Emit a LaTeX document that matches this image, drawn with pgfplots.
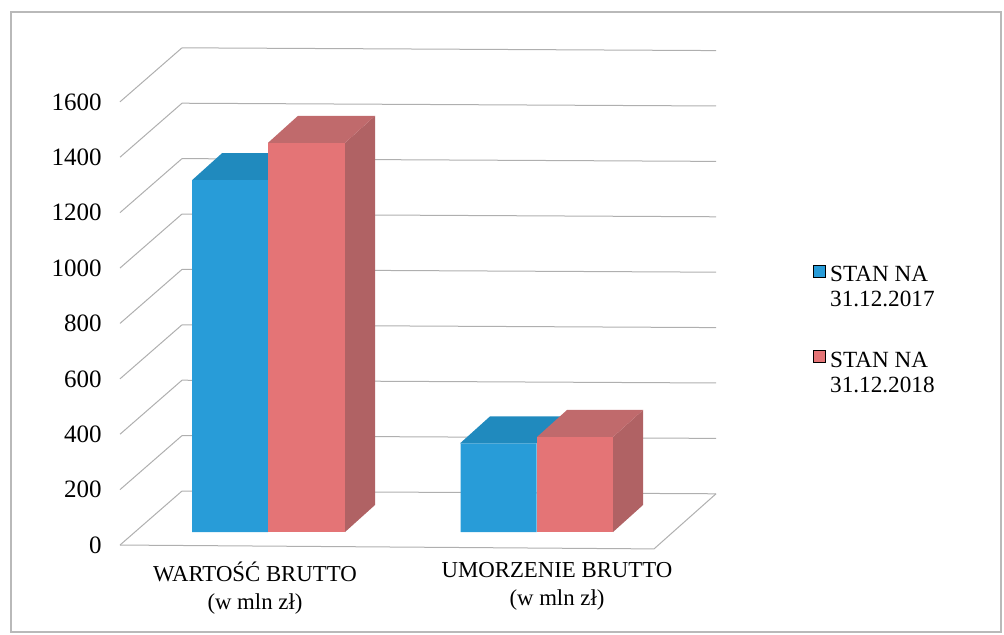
\documentclass[border=0pt]{standalone}
\usepackage{fontspec}
\setmainfont{Liberation Serif}
\usepackage{pgfplots}
\pgfplotsset{compat=1.18}
\definecolor{bfront}{RGB}{40,156,216}
\definecolor{btop}{RGB}{32,138,190}
\definecolor{rfront}{RGB}{228,116,118}
\definecolor{rtop}{RGB}{192,106,108}
\definecolor{rside}{RGB}{176,98,100}
\definecolor{gridc}{RGB}{175,175,175}
% values (mln zl)
\def\bA{1270}\def\rA{1405}\def\bB{320}\def\rB{343}
\pgfmathsetmacro{\bAt}{\bA+97.5}
\pgfmathsetmacro{\rAt}{\rA+97.5}
\pgfmathsetmacro{\bBt}{\bB+97.5}
\pgfmathsetmacro{\rBt}{\rB+97.5}
\begin{document}
\begin{tikzpicture}
\begin{axis}[
  scale only axis, width=502pt, height=317pt,
  xmin=0, xmax=1004, ymin=-368.2, ymax=1920.6,
  axis line style={draw=none}, major tick length=0pt,
  clip=false,
  ytick={-47,153,353,553,753,953,1153,1353,1553},
  yticklabels={0,200,400,600,800,1000,1200,1400,1600},
  yticklabel style={font=\fontsize{12.5}{14}\selectfont, anchor=east, inner sep=0pt, xshift=51pt},
  xtick={255,557},
  xticklabels={{WARTOŚĆ BRUTTO\\(w mln zł)},{UMORZENIE BRUTTO\\(w mln zł)}},
  xticklabel style={font=\fontsize{11.4}{14}\selectfont, align=center, anchor=north, inner sep=0pt, yshift=36pt},
  legend style={at={(axis cs:813,975)}, anchor=north west, draw=none, fill=none, inner sep=0pt,
    font=\fontsize{11.6}{12.5}\selectfont, row sep=17pt, cells={anchor=west, align=left}},
  legend image code/.code={\fill[#1] (0pt,5.25pt) rectangle (6pt,11.25pt);},
]
% frame
\draw[gray!55, line width=0.6pt] (axis cs:11,-361) rectangle (axis cs:1001,1877);
% back wall gridlines
\addplot[gridc, line width=0.5pt, forget plot] coordinates {(182,148) (716,138)};
\addplot[gridc, line width=0.5pt, forget plot] coordinates {(182,348) (716,338)};
\addplot[gridc, line width=0.5pt, forget plot] coordinates {(182,548) (716,538)};
\addplot[gridc, line width=0.5pt, forget plot] coordinates {(182,748) (716,738)};
\addplot[gridc, line width=0.5pt, forget plot] coordinates {(182,948) (716,938)};
\addplot[gridc, line width=0.5pt, forget plot] coordinates {(182,1148) (716,1138)};
\addplot[gridc, line width=0.5pt, forget plot] coordinates {(182,1348) (716,1338)};
\addplot[gridc, line width=0.5pt, forget plot] coordinates {(182,1548) (716,1538)};
\addplot[gridc, line width=0.5pt, forget plot] coordinates {(182,1748) (716,1738)};
% side wall gridlines
\addplot[gridc, line width=0.5pt, forget plot] coordinates {(120,-47) (182,148)};
\addplot[gridc, line width=0.5pt, forget plot] coordinates {(120,153) (182,348)};
\addplot[gridc, line width=0.5pt, forget plot] coordinates {(120,353) (182,548)};
\addplot[gridc, line width=0.5pt, forget plot] coordinates {(120,553) (182,748)};
\addplot[gridc, line width=0.5pt, forget plot] coordinates {(120,753) (182,948)};
\addplot[gridc, line width=0.5pt, forget plot] coordinates {(120,953) (182,1148)};
\addplot[gridc, line width=0.5pt, forget plot] coordinates {(120,1153) (182,1348)};
\addplot[gridc, line width=0.5pt, forget plot] coordinates {(120,1353) (182,1548)};
\addplot[gridc, line width=0.5pt, forget plot] coordinates {(120,1553) (182,1748)};
% floor
\addplot[gridc, line width=0.5pt, forget plot] coordinates {(120,-47) (654,-61) (716,138)};
% group 1
\addplot[fill=btop, draw=none, forget plot] coordinates {(192,\bA) (268,\bA) (298,\bAt) (222,\bAt)};
\addplot[ybar, bar width=76, bar shift=0pt, fill=bfront, draw=none, forget plot] coordinates {(230,\bA) (498.5,\bB)};
\addplot[fill=rside, draw=none, forget plot] coordinates {(345,0) (375,97.5) (375,\rAt) (345,\rA)};
\addplot[fill=rtop, draw=none, forget plot] coordinates {(268,\rA) (345,\rA) (375,\rAt) (298,\rAt)};
\addplot[ybar, bar width=77, bar shift=0pt, fill=rfront, draw=none, forget plot] coordinates {(306.5,\rA)};
% group 2
\addplot[fill=btop, draw=none, forget plot] coordinates {(460,\bB) (537,\bB) (567,\bBt) (490,\bBt)};
\addplot[fill=rside, draw=none, forget plot] coordinates {(613,0) (643,97.5) (643,\rBt) (613,\rB)};
\addplot[fill=rtop, draw=none, forget plot] coordinates {(537,\rB) (613,\rB) (643,\rBt) (567,\rBt)};
\addplot[ybar, bar width=76, bar shift=0pt, fill=rfront, draw=none, forget plot] coordinates {(575,\rB)};
% legend
\addlegendimage{fill=bfront}
\addlegendentry{STAN NA\\31.12.2017}
\addlegendimage{fill=rfront}
\addlegendentry{STAN NA\\31.12.2018}
\end{axis}
\pgfresetboundingbox
\path (current axis.south west) rectangle (current axis.north east);
\end{tikzpicture}
\end{document}
